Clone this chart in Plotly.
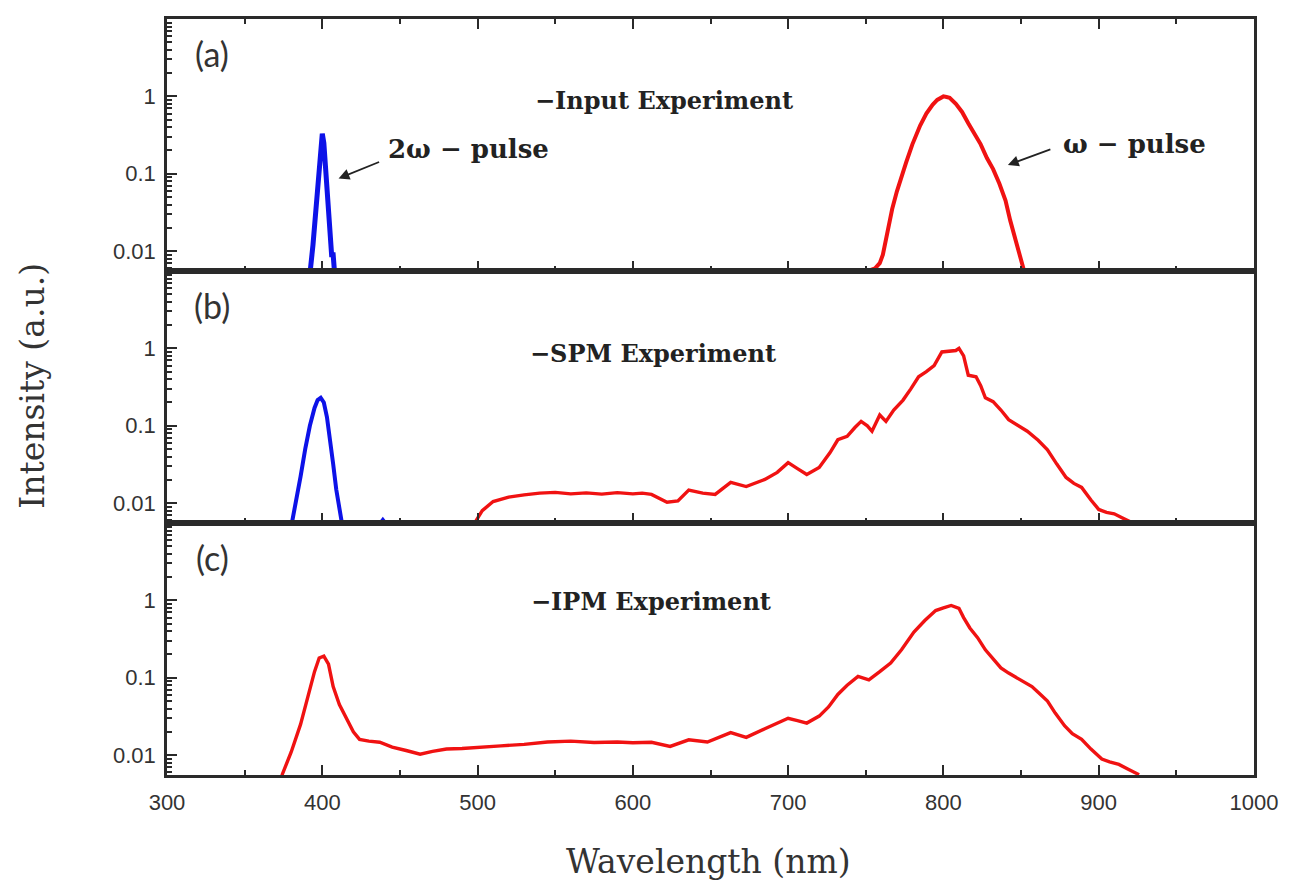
import plotly.graph_objects as go
from plotly.subplots import make_subplots

# ---------------- data ----------------
# Panel (a) Input experiment
a_blue_x = [390, 392, 394, 396, 398, 399, 400, 401, 402, 403, 404, 405, 406, 407, 408]
a_blue_y = [0.004, 0.005, 0.012, 0.04, 0.13, 0.24, 0.33, 0.25, 0.13, 0.07, 0.035, 0.014, 0.009, 0.009, 0.005]

a_red_x = [748, 752, 756, 759, 761, 764, 767, 770, 773, 776, 780, 785, 789, 793, 796, 800, 802, 804,
           808, 812, 816, 820, 824, 828, 832, 836, 840, 843, 846, 849, 852]
a_red_y = [0.0055, 0.0056, 0.006, 0.007, 0.009, 0.018, 0.035, 0.059, 0.095, 0.14, 0.24, 0.42, 0.6, 0.78, 0.9, 1.0,
           0.98, 0.96, 0.8, 0.63, 0.45, 0.32, 0.24, 0.16, 0.115, 0.075, 0.045, 0.025, 0.015, 0.009, 0.0055]

# Panel (b) SPM experiment
b_blue_x = [380, 383, 386, 389, 392, 395, 397, 399, 401, 403, 405, 407, 409, 411, 413]
b_blue_y = [0.005, 0.01, 0.022, 0.05, 0.1, 0.17, 0.215, 0.23, 0.2, 0.13, 0.07, 0.032, 0.015, 0.008, 0.005]
b_blip_x = [437, 439, 441]
b_blip_y = [0.0055, 0.0062, 0.0055]

b_red_x = [498, 503, 510, 520, 530, 540, 550, 560, 570, 580, 590, 600, 606, 612, 622, 629, 636, 645, 653,
           663, 673, 685, 693, 700, 706, 712, 720, 727, 732, 738, 743, 747, 751, 754, 759, 763, 768, 774,
           779, 784, 789, 794, 799, 804, 808, 810, 813, 816, 821, 824, 827, 832, 837, 842, 848, 854, 861,
           867, 873, 879, 884, 889, 895, 900, 905, 910, 915, 920]
b_red_y = [0.0055, 0.008, 0.0105, 0.012, 0.0128, 0.0135, 0.0138, 0.0132, 0.0136, 0.0131, 0.0137, 0.0132, 0.0135,
           0.013, 0.0103, 0.0107, 0.0148, 0.0135, 0.013, 0.0186, 0.0164, 0.0203, 0.025, 0.0334, 0.028, 0.0235,
           0.029, 0.045, 0.066, 0.073, 0.095, 0.114, 0.1, 0.085, 0.138, 0.114, 0.16, 0.215, 0.3, 0.43, 0.5,
           0.6, 0.9, 0.92, 0.94, 1.0, 0.8, 0.45, 0.43, 0.33, 0.23, 0.205, 0.16, 0.12, 0.1, 0.085, 0.065,
           0.049, 0.032, 0.0215, 0.018, 0.016, 0.011, 0.0083, 0.0076, 0.0073, 0.0065, 0.0058]

# Panel (c) IPM experiment
c_red_x = [374, 380, 386, 391, 395, 398, 401, 404, 407, 411, 416, 420, 424, 430, 437, 445, 454, 463, 471, 480,
           490, 500, 515, 530, 545, 560, 575, 590, 600, 612, 624, 636, 648, 663, 673, 685, 693, 700, 706, 712,
           720, 726, 732, 738, 745, 752, 759, 766, 773, 781, 788, 795, 800, 805, 810, 813, 817, 822, 827, 832,
           837, 842, 847, 852, 857, 862, 867, 872, 878, 883, 889, 895, 902, 907, 913, 919, 926]
c_red_y = [0.0055, 0.011, 0.025, 0.06, 0.12, 0.18, 0.19, 0.15, 0.077, 0.045, 0.029, 0.02, 0.016, 0.0152,
           0.0147, 0.0127, 0.0115, 0.0103, 0.0112, 0.012, 0.0122, 0.0125, 0.0132, 0.0138, 0.0148, 0.0152,
           0.0146, 0.0148, 0.0145, 0.0147, 0.013, 0.0158, 0.0148, 0.0196, 0.017, 0.022, 0.026, 0.03, 0.028,
           0.026, 0.032, 0.042, 0.061, 0.08, 0.104, 0.094, 0.12, 0.155, 0.23, 0.39, 0.55, 0.74, 0.8, 0.86,
           0.79, 0.6, 0.44, 0.33, 0.23, 0.175, 0.134, 0.115, 0.1, 0.088, 0.077, 0.062, 0.05, 0.035, 0.024,
           0.019, 0.016, 0.012, 0.0089, 0.0082, 0.0076, 0.0066, 0.0056]

x_tick_vals = [300, 400, 500, 600, 700, 800, 900, 1000]
x_tick_text = ["300", "400", "500", "600", "700", "800", "900", "1000"]
x_minor_vals = [350, 450, 550, 650, 750, 850, 950]
y_tick_vals = [0.01, 0.1, 1]
y_tick_text = ["0.01", "0.1", "1"]
y_minor_vals = [m * d for d in [0.001, 0.01, 0.1, 1] for m in range(2, 10)]

panel_labels = ["(a)", "(b)", "(c)"]
panel_texts = ["\u2212Input Experiment", "\u2212SPM Experiment", "\u2212IPM Experiment"]

# ---------------- figure ----------------
BLUE = "#0d12e8"
RED = "#f01212"
AX = "#2a2a2a"
SERIF = "DejaVu Serif, Liberation Serif"

fig = make_subplots(rows=3, cols=1, shared_xaxes=True, vertical_spacing=0)

fig.add_trace(go.Scatter(x=a_blue_x, y=a_blue_y, mode="lines", line=dict(color=BLUE, width=5)), row=1, col=1)
fig.add_trace(go.Scatter(x=a_red_x, y=a_red_y, mode="lines", line=dict(color=RED, width=4)), row=1, col=1)
fig.add_trace(go.Scatter(x=b_blue_x, y=b_blue_y, mode="lines", line=dict(color=BLUE, width=4)), row=2, col=1)
fig.add_trace(go.Scatter(x=b_blip_x, y=b_blip_y, mode="lines", line=dict(color=BLUE, width=3)), row=2, col=1)
fig.add_trace(go.Scatter(x=b_red_x, y=b_red_y, mode="lines", line=dict(color=RED, width=3.4)), row=2, col=1)
fig.add_trace(go.Scatter(x=c_red_x, y=c_red_y, mode="lines", line=dict(color=RED, width=3.4)), row=3, col=1)

YR = [-2.256, 1.0]
for r in range(1, 4):
    fig.update_xaxes(
        row=r, col=1, range=[300, 1000], showgrid=False, zeroline=False,
        showline=True, linecolor=AX, linewidth=2.5,
        mirror="ticks" if r == 1 else True,
        ticks="inside", ticklen=10, tickwidth=2, tickcolor=AX,
        tickmode="array", tickvals=x_tick_vals, ticktext=x_tick_text,
        minor=dict(ticks="inside", ticklen=5, tickwidth=2, tickcolor=AX,
                   tickmode="array", tickvals=x_minor_vals, showgrid=False),
        showticklabels=(r == 3),
        tickfont=dict(family="Liberation Sans, Arial", size=22, color="#333333"),
        ticklabelstandoff=6,
    )
    fig.update_yaxes(
        row=r, col=1, type="log", range=YR, showgrid=False, zeroline=False,
        showline=True, linecolor=AX, linewidth=2.5, mirror=True,
        ticks="inside", ticklen=10, tickwidth=2, tickcolor=AX,
        tickmode="array", tickvals=y_tick_vals, ticktext=y_tick_text,
        minor=dict(ticks="inside", ticklen=5, tickwidth=1.5, tickcolor=AX,
                   tickmode="array", tickvals=y_minor_vals, showgrid=False),
        tickfont=dict(family="Liberation Sans, Arial", size=22, color="#333333"),
        ticklabelstandoff=4,
    )

annotations = []
yrefs = ["y", "y2", "y3"]
xrefs = ["x", "x2", "x3"]
for i in range(3):
    annotations.append(dict(
        x=329, y=0.55, xref=xrefs[i], yref=yrefs[i], text=panel_labels[i], showarrow=False,
        font=dict(family="Lato, Open Sans", size=34, color="#333333"),
    ))
text_pos = [(620, -0.05), (613, -0.06), (612, -0.02)]
for i in range(3):
    annotations.append(dict(
        x=text_pos[i][0], y=text_pos[i][1], xref=xrefs[i], yref=yrefs[i],
        text="<b>" + panel_texts[i] + "</b>",
        showarrow=False, font=dict(family=SERIF, size=24, color="#222222"),
    ))

# pulse labels with arrows (panel a)
annotations.append(dict(x=494, y=-0.68, xref="x", yref="y", text="<b>2\u03c9 \u2212 pulse</b>", showarrow=False,
                        font=dict(family=SERIF, size=26, color="#222222")))
annotations.append(dict(x=410.5, y=-1.06, xref="x", yref="y", text="", showarrow=True,
                        ax=42, ay=-17, arrowhead=2, arrowsize=1.2, arrowwidth=1.8, arrowcolor="#222222"))
annotations.append(dict(x=923, y=-0.61, xref="x", yref="y", text="<b>\u03c9 \u2212 pulse</b>", showarrow=False,
                        font=dict(family=SERIF, size=26, color="#222222")))
annotations.append(dict(x=841.5, y=-0.885, xref="x", yref="y", text="", showarrow=True,
                        ax=44, ay=-16, arrowhead=2, arrowsize=1.2, arrowwidth=1.8, arrowcolor="#222222"))

# axis titles
annotations.append(dict(x=-0.124, y=0.515, xref="paper", yref="paper", text="Intensity (a.u.)",
                        textangle=-90, showarrow=False, xanchor="center", yanchor="middle",
                        font=dict(family=SERIF, size=33, color="#333333")))
annotations.append(dict(x=0.4986, y=-0.1146, xref="paper", yref="paper", text="Wavelength (nm)",
                        showarrow=False, xanchor="center", yanchor="middle",
                        font=dict(family=SERIF, size=33, color="#333333")))

fig.update_layout(
    width=1285, height=872,
    margin=dict(l=159, r=39, t=8, b=105),
    paper_bgcolor="white", plot_bgcolor="white",
    showlegend=False,
    annotations=annotations,
)

fig.write_html("out.html")
